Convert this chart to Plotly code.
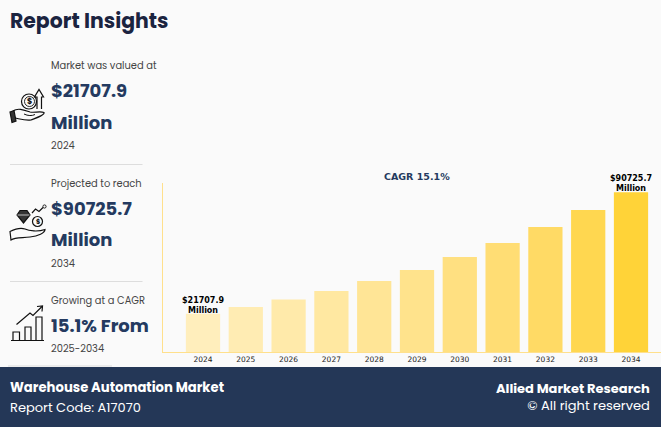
import plotly.graph_objects as go

W, H = 661, 427
years = [2024, 2025, 2026, 2027, 2028, 2029, 2030, 2031, 2032, 2033, 2034]
values = [21707.9, 25600, 29800, 34700, 40300, 46600, 54000, 62000, 71000, 80700, 90725.7]
bar_colors = ["#FFEEBC", "#FFECB3", "#FFEAAA", "#FFE8A1", "#FFE596", "#FFE38C", "#FFE081",
              "#FFDD74", "#FFDA65", "#FFD750", "#FFD338"]
value_labels = ["$21707.9<br>Million", "", "", "", "", "", "", "", "", "", "$90725.7<br>Million"]

NAVY = "#243A60"
DARK = "#1B2440"
GREY = "#444444"
UI = "Poppins, Inter, sans-serif"
AX = "#FFE08C"


def px(x):
    return x / W


def py(y):
    return 1 - y / H


BASE_Y = 352.0
AX_TOP = 183.0
UNIT = 0.00176  # pixels per value unit
y_top_val = (BASE_Y - AX_TOP) / UNIT

fig = go.Figure(go.Bar(
    x=years, y=values, width=0.8, marker=dict(color=bar_colors, line_width=0),
    cliponaxis=False, hoverinfo="skip",
))

shapes = []
ann = []

# value labels sit on the bars through the data axes
for yr, val, lab in zip(years, values, value_labels):
    if lab:
        ann.append(dict(x=yr, y=val, xref="x", yref="y", text=lab, showarrow=False,
                        xanchor="center", yanchor="bottom", align="center", yshift=-3,
                        font=dict(family="DejaVu Sans", size=8, color="#000000", weight="bold")))


def text(x, y, s, size, color=GREY, weight="normal", anchor="left", family=UI):
    # annotations carry 2 px of padding on their sides
    dx = {"left": -2, "right": 2, "center": 0}[anchor]
    ann.append(dict(x=px(x + dx), y=py(y), xref="paper", yref="paper", text=s, showarrow=False,
                    xanchor=anchor, yanchor="middle", align=anchor,
                    font=dict(family=family, size=size, color=color, weight=weight)))


def path(d, color="#111111", width=1.2, fill=None):
    # d is a list of pixel points / commands for a decorative icon
    out = []
    for tok in d:
        if isinstance(tok, str):
            out.append(tok)
        else:
            out.append(f"{px(tok[0]):.5f},{py(tok[1]):.5f}")
    shapes.append(dict(type="path", xref="paper", yref="paper", path=" ".join(out),
                       line=dict(color=color, width=width),
                       fillcolor=fill if fill else "rgba(0,0,0,0)", layer="above"))


def circle(cx, cy, r, color="#111111", width=1.2):
    shapes.append(dict(type="circle", xref="paper", yref="paper",
                       x0=px(cx - r), x1=px(cx + r), y0=py(cy + r), y1=py(cy - r),
                       line=dict(color=color, width=width), layer="above"))


def line(x0, y0, x1, y1, color="#111111", width=1.2):
    shapes.append(dict(type="line", xref="paper", yref="paper",
                       x0=px(x0), x1=px(x1), y0=py(y0), y1=py(y1),
                       line=dict(color=color, width=width), layer="above"))


# footer band
shapes.append(dict(type="rect", xref="paper", yref="paper", x0=0, x1=1, y0=0, y1=py(367),
                   fillcolor="#243757", line_width=0, layer="below"))
# separators
line(10, 164.5, 142.5, 164.5, "#DDDDDD", 1)
line(10, 281.5, 142.5, 281.5, "#DDDDDD", 1)
line(8, 366, 112, 366, "#DDDDDD", 1)

# texts
text(10, 21, "Report Insights", 20.4, DARK, "bold")
text(51, 66, "Market was valued at", 9.9)
text(51, 90, "$21707.9", 18, NAVY, "bold")
text(51, 122, "Million", 18, NAVY, "bold")
text(51, 146, "2024", 9.9)
text(51, 183.5, "Projected to reach", 9.9)
text(51, 208, "$90725.7", 18, NAVY, "bold")
text(51, 240, "Million", 18, NAVY, "bold")
text(51, 263, "2034", 9.9)
text(51, 300.5, "Growing at a CAGR", 9.9)
text(51, 325, "15.1% From", 18, NAVY, "bold")
text(51, 348, "2025-2034", 9.9)
text(417, 176, "CAGR 15.1%", 9.5, NAVY, "bold", "center", "DejaVu Sans")
text(10, 387, "Warehouse Automation Market", 13.2, "#FFFFFF", "bold")
text(10, 407.5, "Report Code: A17070", 13, "#FFFFFF")
text(650, 396.5, "<b>Allied Market Research</b><br>© All right reserved", 13, "#FFFFFF", "normal", "right")

# icon 1: coin, arrow, hand
circle(29, 101.5, 7.5)
circle(29.5, 101.5, 5, width=0.9)
text(29.5, 101.5, "$", 8, "#111111", "bold", "center")
path(["M", (37, 109), "L", (37, 97), "L", (34.5, 97), "L", (39, 89.5), "L", (43.5, 97), "L", (41.5, 97), "L", (41.5, 109)])
path(["M", (13, 111), "C", (18, 107.5), (24, 110), (30, 112), "C", (34, 113), (40, 111), (44, 112.5),
      "C", (45, 115), (36, 118), (31, 120), "C", (26, 121), (20, 119), (15, 118)])
path(["M", (10, 112), "L", (14, 110.5), "L", (16, 121), "L", (12, 122.5), "Z"], fill="#333333")
path(["M", (24, 114), "C", (28, 116), (32, 116), (35, 114.5)], width=1)
# icon 2: gem, coin, squiggle, hand
path(["M", (17, 215), "L", (20, 210.5), "L", (27, 210.5), "L", (30, 215), "L", (23.5, 223), "Z"], fill="#333333")
line(17.5, 215, 29.5, 215, "#FAFAFA", 0.7)
circle(37.5, 221.5, 5)
text(37.5, 221.5, "$", 6.5, "#111111", "bold", "center")
path(["M", (32, 213), "L", (35.5, 209), "L", (39, 211.5), "L", (43, 207.5)])
circle(44.5, 206.5, 1.6, width=0.9)
path(["M", (10, 231.5), "C", (15, 229), (20, 227), (25, 229), "C", (29, 231), (38, 232), (45, 229.5),
      "C", (45, 233), (38, 236), (30, 237), "C", (22, 238), (15, 237), (11, 240), "Z"])
# icon 3: rising bars
line(11, 340.5, 44, 340.5)
for x0, x1, y0 in [(13, 19.5, 332), (25, 31, 327), (36, 42, 317)]:
    path(["M", (x0, 340.5), "L", (x0, y0), "L", (x1, y0), "L", (x1, 340.5)])
path(["M", (16.5, 324.5), "L", (30, 313), "L", (33, 315.5), "L", (42, 306.5)])
path(["M", (37, 306.5), "L", (42.5, 306), "L", (42, 311.5)])

first_center, step = 203.0, 42.8
fig.update_layout(
    width=W, height=H, margin=dict(l=0, r=0, t=0, b=0),
    paper_bgcolor="#FAFAFA", plot_bgcolor="rgba(0,0,0,0)", showlegend=False,
    shapes=shapes, annotations=ann,
    xaxis=dict(domain=[162.5 / W, 1],
               range=[2024 - (first_center - 162.5) / step, 2024 + (W - first_center) / step],
               tickmode="array", tickvals=years, ticktext=[str(y) for y in years],
               showgrid=False, zeroline=False, showline=True, linecolor=AX, linewidth=1.2,
               ticks="", ticklen=0, tickangle=0,
               tickfont=dict(family="DejaVu Sans", size=7.5, color="#222222")),
    yaxis=dict(domain=[py(BASE_Y), py(AX_TOP)], range=[0, y_top_val], showgrid=False,
               zeroline=False, showline=True, linecolor=AX, linewidth=1.2,
               showticklabels=False, ticks=""),
)
fig.write_html("out.html", config=dict(displayModeBar=False),
               post_script="document.body.style.margin='0';document.body.style.background='#FAFAFA';")
